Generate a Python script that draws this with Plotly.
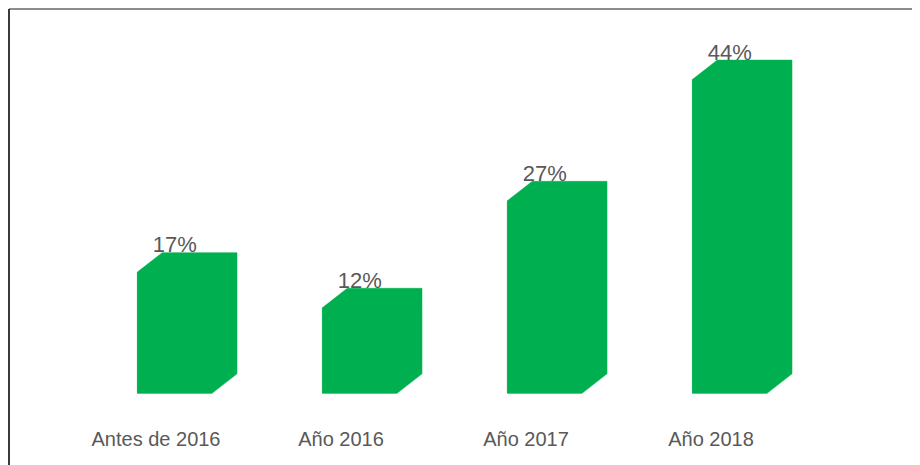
import plotly.graph_objects as go

categories = ["Antes de 2016", "Año 2016", "Año 2017", "Año 2018"]
values = [17, 12, 27, 44]
labels = ["17%", "12%", "27%", "44%"]

GREEN = "#00B050"
TEXT = "#595959"
FONT = "Liberation Sans, Arial, sans-serif"

# geometry of the pseudo-3D extrusion (in axis units)
FRONT_OFF = -0.101   # front face left edge relative to category
FRONT_W = 0.404      # front face width
DX = 0.135           # depth offset in x units
DY = 2.73            # depth offset in % units

xs = list(range(len(categories)))

fig = go.Figure()

# front faces as real bars
fig.add_trace(go.Bar(
    x=xs, y=values, offset=FRONT_OFF, width=FRONT_W,
    marker=dict(color=GREEN, line=dict(width=0)),
    hoverinfo="skip", showlegend=False,
))

# full 3D silhouette (front + top + side), computed from the data values
for x, v in zip(xs, values):
    l = x + FRONT_OFF
    r = l + FRONT_W
    px = [l, l, l + DX, r + DX, r + DX, r, l]
    py = [0, v, v + DY, v + DY, DY, 0, 0]
    fig.add_trace(go.Scatter(
        x=px, y=py, mode="lines", fill="toself", fillcolor=GREEN,
        line=dict(width=0.5, color=GREEN), hoverinfo="skip", showlegend=False,
    ))

# value labels
fig.add_trace(go.Scatter(
    x=[x + FRONT_OFF + FRONT_W / 2 for x in xs],
    y=[v + DY + 0.8 for v in values],
    mode="text", text=labels, textposition="middle center",
    textfont=dict(family=FONT, size=22, color=TEXT),
    hoverinfo="skip", showlegend=False,
))

W, H = 912, 457
B = 48
plot_h = H - B
base_px = 385.3
ppu = 7.13
y_top = base_px / ppu
y_bot = -(plot_h - base_px) / ppu
c0 = 148
step = 185
x0 = -c0 / step
x1 = (W - c0) / step

fig.update_layout(
    width=W, height=H,
    margin=dict(l=0, r=0, t=0, b=B),
    paper_bgcolor="white", plot_bgcolor="white",
    xaxis=dict(
        range=[x0, x1], tickmode="array", tickvals=xs, ticktext=categories,
        showgrid=False, zeroline=False, showline=False,
        ticks="outside", ticklen=4, tickcolor="rgba(0,0,0,0)",
        tickfont=dict(family=FONT, size=20, color=TEXT),
    ),
    yaxis=dict(range=[y_bot, y_top], visible=False, showgrid=False, zeroline=False),
    shapes=[
        dict(type="line", xref="paper", yref="paper",
             x0=1 / W, x1=1.0, y0=1 - 1 / plot_h, y1=1 - 1 / plot_h,
             line=dict(color="#8c8c8c", width=2)),
        dict(type="line", xref="paper", yref="paper",
             x0=1 / W, x1=1 / W, y0=1 - 1 / plot_h, y1=-B / plot_h,
             line=dict(color="#3a3a3a", width=2)),
    ],
)

fig.write_html("out.html")
